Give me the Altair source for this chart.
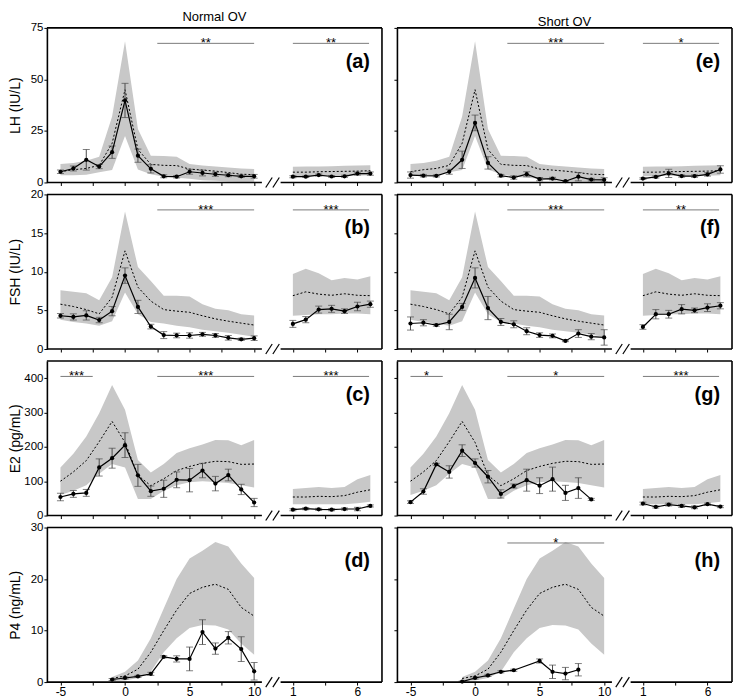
import altair as alt
import pandas as pd

FONT = "Liberation Sans"

# ---------------- categories / labels ----------------
hormones = ["LH", "FSH", "E2", "P4"]
y_titles = ["LH (IU/L)", "FSH (IU/L)", "E2 (pg/mL)", "P4 (ng/mL)"]
y_max = [75, 20, 450, 30]
y_ticks = [[0, 25, 50, 75], [0, 5, 10, 15, 20], [0, 100, 200, 300, 400], [0, 10, 20, 30]]
groups = ["Normal OV", "Short OV"]
panel_letters = [["(a)", "(e)"], ["(b)", "(f)"], ["(c)", "(g)"], ["(d)", "(h)"]]

cycle_days = list(range(-5, 11))
late_days = list(range(1, 8))
p4_days = list(range(-1, 11))
p4_short_days = [-1, 0, 1, 2, 3, 5, 6, 7, 8]
e2_short_days = list(range(-5, 10))

x_tick_days = [-5, -2.5, 0, 2.5, 5, 7.5, 10]
x_tick_labels = ["-5", "", "0", "", "5", "", "10"]
late_tick_days = [1, 3.5, 6]
late_tick_labels = ["1", "", "6"]

# ---------------- reference population (grey range, dotted median) ----------------
LH_hi = [9.0, 9.5, 10.5, 12.5, 32.0, 68.5, 26.0, 13.0, 12.8, 12.5, 9.0, 8.2, 7.8, 7.3, 6.8, 6.5]
LH_med = [5.2, 6.2, 6.8, 8.3, 19.0, 45.0, 16.0, 8.8, 8.3, 8.2, 6.5, 6.0, 5.5, 4.8, 4.0, 3.8]
LH_lo = [3.5, 3.5, 3.8, 5.0, 6.0, 22.5, 6.3, 4.0, 2.8, 2.3, 1.8, 1.1, 0.8, 0.5, 0.4, 0.4]
LH_late_hi = [7.6, 7.7, 7.8, 7.9, 8.1, 8.2, 8.4]
LH_late_med = [5.0, 5.0, 5.2, 5.3, 5.4, 5.5, 5.7]
LH_late_lo = [3.0, 3.0, 3.2, 3.0, 3.2, 3.3, 3.5]

FSH_hi = [7.6, 7.4, 7.2, 6.3, 9.3, 17.8, 10.6, 8.8, 6.9, 6.9, 6.8, 5.8, 5.2, 5.0, 4.5, 4.35]
FSH_med = [5.8, 5.5, 5.1, 4.55, 6.7, 12.7, 8.0, 6.2, 5.1, 4.9, 4.75, 4.3, 3.9, 3.6, 3.35, 3.1]
FSH_lo = [3.8, 3.5, 3.3, 3.0, 3.6, 7.3, 4.5, 3.5, 3.3, 3.0, 2.8, 2.5, 2.3, 2.1, 1.85, 1.6]
FSH_late_hi = [9.7, 10.4, 9.8, 8.9, 9.2, 9.0, 9.4]
FSH_late_med = [6.9, 7.4, 7.1, 6.95, 7.15, 6.95, 6.9]
FSH_late_lo = [4.3, 4.4, 4.5, 4.5, 4.6, 4.6, 4.5]

E2_hi = [140, 180, 230, 298, 380, 308, 162, 125, 150, 182, 196, 207, 220, 219, 205, 220]
E2_med = [100, 127, 160, 215, 274, 213, 117, 87, 107, 131, 143, 152, 158, 157, 149, 150]
E2_lo = [60, 72, 88, 122, 150, 140, 48, 48, 72, 88, 97, 100, 98, 95, 88, 82]
E2_late_hi = [77, 80, 83, 80, 83, 106, 118]
E2_late_med = [54, 54, 56, 55, 58, 68, 75]
E2_late_lo = [33, 33, 33, 33, 33, 36, 40]

P4_hi = [1.0, 2.0, 4.2, 8.5, 14.3, 20.0, 24.0, 25.5, 27.2, 26.3, 23.0, 20.2]
P4_med = [0.7, 1.2, 2.5, 5.8, 10.0, 14.0, 17.2, 18.4, 19.0, 18.0, 14.5, 12.8]
P4_lo = [0.2, 0.3, 0.8, 2.0, 5.8, 8.5, 10.5, 11.1, 11.0, 10.2, 7.5, 5.3]

# ---------------- observed means and SEM ----------------
LH_normal = [5.2, 6.8, 11.0, 7.7, 14.7, 39.8, 13.0, 6.6, 3.0, 2.8, 5.2, 4.6, 4.0, 3.5, 3.0, 3.0]
LH_normal_se = [0.8, 1.2, 5.0, 1.0, 3.0, 8.3, 3.2, 2.0, 0.7, 0.6, 1.2, 1.4, 1.0, 0.7, 0.6, 0.9]
LH_normal_late = [2.8, 2.8, 3.6, 2.9, 3.0, 4.3, 4.3]
LH_normal_late_se = [0.5, 0.4, 0.5, 0.4, 0.5, 0.7, 0.8]
LH_short = [3.6, 3.3, 3.2, 5.2, 11.0, 28.9, 9.5, 3.3, 2.4, 4.0, 1.6, 1.9, 0.6, 2.8, 1.4, 1.3]
LH_short_se = [1.5, 0.6, 0.5, 1.2, 4.2, 3.8, 3.0, 0.6, 0.8, 1.2, 0.8, 0.6, 0.3, 2.0, 0.6, 1.0]
LH_short_late = [1.9, 2.7, 4.4, 3.1, 3.1, 3.9, 6.3]
LH_short_late_se = [0.4, 0.5, 2.0, 0.5, 0.6, 0.8, 1.8]

FSH_normal = [4.3, 4.15, 4.35, 3.75, 4.9, 9.5, 5.45, 2.9, 1.8, 1.75, 1.75, 1.9, 1.75, 1.45, 1.25, 1.4]
FSH_normal_se = [0.3, 0.4, 0.6, 0.35, 0.6, 1.0, 0.85, 0.3, 0.45, 0.3, 0.35, 0.25, 0.25, 0.3, 0.15, 0.3]
FSH_normal_late = [3.25, 3.8, 5.1, 5.2, 4.9, 5.5, 5.8]
FSH_normal_late_se = [0.45, 0.4, 0.45, 0.45, 0.3, 0.55, 0.4]
FSH_short = [3.3, 3.4, 3.1, 3.5, 5.45, 9.2, 5.3, 3.5, 3.2, 2.3, 1.8, 1.7, 1.05, 2.0, 1.6, 1.5]
FSH_short_se = [0.85, 0.4, 0.15, 1.0, 0.45, 1.3, 1.5, 0.45, 0.45, 0.45, 0.3, 0.25, 0.1, 0.5, 0.4, 1.0]
FSH_short_late = [2.85, 4.5, 4.5, 5.15, 5.0, 5.35, 5.6]
FSH_short_late_se = [0.3, 0.6, 0.5, 0.6, 0.3, 0.5, 0.4]

E2_normal = [54, 63, 66, 140, 167, 205, 117, 71, 78, 104, 103, 131, 93, 118, 76, 38]
E2_normal_se = [11, 10, 10, 25, 29, 36, 32, 15, 25, 23, 34, 21, 21, 17, 15, 12]
E2_normal_late = [17, 20, 18, 17, 19, 19, 28]
E2_normal_late_se = [3, 3, 3, 3, 3, 5, 3]
E2_short = [39, 70, 149, 127, 189, 153, 113, 63, 86, 103, 87, 106, 66, 80, 47]
E2_short_se = [4, 8, 3, 18, 17, 12, 18, 12, 6, 32, 23, 35, 22, 30, 3]
E2_short_late = [35, 25, 32, 28, 24, 33, 26]
E2_short_late_se = [4, 3, 4, 4, 4, 3, 3]

P4_normal = [0.5, 0.8, 1.1, 1.6, 4.9, 4.5, 4.5, 9.7, 6.5, 8.6, 6.4, 2.1]
P4_normal_se = [0.2, 0.2, 0.2, 0.3, 0.2, 0.6, 2.3, 2.4, 1.1, 1.2, 2.4, 1.7]
P4_short = [0.1, 0.8, 1.3, 2.0, 2.3, 4.1, 2.0, 1.65, 2.4]
P4_short_se = [0.1, 0.2, 0.2, 0.2, 0.2, 0.4, 1.3, 1.2, 1.2]

# significance bars: (start day, end day, segment, label)
sig_bars = {
    ("LH", 0): [(2.5, 10, "main", "**"), (1, 6.9, "late", "**")],
    ("LH", 1): [(2.5, 10, "main", "***"), (1, 6.9, "late", "*")],
    ("FSH", 0): [(2.5, 10, "main", "***"), (1, 6.9, "late", "***")],
    ("FSH", 1): [(2.5, 10, "main", "***"), (1, 6.9, "late", "**")],
    ("E2", 0): [(-5, -2.5, "main", "***"), (2.5, 10, "main", "***"), (1, 6.9, "late", "***")],
    ("E2", 1): [(-5, -2.5, "main", "*"), (2.5, 10, "main", "*"), (1, 6.9, "late", "***")],
    ("P4", 0): [],
    ("P4", 1): [(2.5, 10, "main", "*")],
}
sig_level = [67.5, 18.0, 405, 27.0]

# ---------------- layout constants ----------------
LATE_SHIFT = 12          # where the post-break segment sits on the x scale
X_MIN, X_MAX = -6.05, 19.9
BREAK_L, BREAK_R = 10.6, 12.05
PW, PH = 336, 155

ref = {
    "LH": (cycle_days, LH_lo, LH_med, LH_hi, LH_late_lo, LH_late_med, LH_late_hi),
    "FSH": (cycle_days, FSH_lo, FSH_med, FSH_hi, FSH_late_lo, FSH_late_med, FSH_late_hi),
    "E2": (cycle_days, E2_lo, E2_med, E2_hi, E2_late_lo, E2_late_med, E2_late_hi),
    "P4": (p4_days, P4_lo, P4_med, P4_hi, [], [], []),
}
obs = {
    ("LH", 0): (cycle_days, LH_normal, LH_normal_se, LH_normal_late, LH_normal_late_se),
    ("LH", 1): (cycle_days, LH_short, LH_short_se, LH_short_late, LH_short_late_se),
    ("FSH", 0): (cycle_days, FSH_normal, FSH_normal_se, FSH_normal_late, FSH_normal_late_se),
    ("FSH", 1): (cycle_days, FSH_short, FSH_short_se, FSH_short_late, FSH_short_late_se),
    ("E2", 0): (cycle_days, E2_normal, E2_normal_se, E2_normal_late, E2_normal_late_se),
    ("E2", 1): (e2_short_days, E2_short, E2_short_se, E2_short_late, E2_short_late_se),
    ("P4", 0): (p4_days, P4_normal, P4_normal_se, [], []),
    ("P4", 1): (p4_short_days, P4_short, P4_short_se, [], []),
}


def ref_frame(h):
    days, lo, med, hi, llo, lmed, lhi = ref[h]
    rows = [dict(x=d, seg="main", lo=a, med=b, hi=c) for d, a, b, c in zip(days, lo, med, hi)]
    rows += [dict(x=d + LATE_SHIFT, seg="late", lo=a, med=b, hi=c)
             for d, a, b, c in zip(late_days, llo, lmed, lhi)]
    return pd.DataFrame(rows)


def obs_frame(h, c):
    days, m, se, lm, lse = obs[(h, c)]
    rows = [dict(x=d, seg="main", mean=v, elo=v - s, ehi=v + s) for d, v, s in zip(days, m, se)]
    rows += [dict(x=d + LATE_SHIFT, seg="late", mean=v, elo=v - s, ehi=v + s)
             for d, v, s in zip(late_days, lm, lse)]
    return pd.DataFrame(rows)


tick_x = x_tick_days + [d + LATE_SHIFT for d in late_tick_days]
tick_lab = x_tick_labels + late_tick_labels
label_expr = "".join(f"datum.value == {v} ? '{l}' : " for v, l in zip(tick_x, tick_lab)) + "''"

GREY = "#c8c8c8"
ERR = "#4a4a4a"


def panel(r, c):
    h = hormones[r]
    ymax = y_max[r]
    xs = alt.Scale(domain=[X_MIN, X_MAX], nice=False, zero=False)
    ys = alt.Scale(domain=[0, ymax], nice=False, zero=False)
    x_axis = alt.Axis(values=tick_x, tickCount=40, labelExpr=label_expr, labels=(r == 3),
                      domain=False, ticks=True, tickSize=3, tickColor="black", labelPadding=1,
                      grid=False, labelOverlap=False, title=None, labelFontSize=12,
                      labelColor="black", labelFont=FONT)
    y_axis = alt.Axis(values=y_ticks[r], tickCount=40, format="d", labels=(c == 0), grid=False,
                      tickSize=3, tickColor="black", domainColor="black", domainWidth=1.6,
                      labelPadding=1, labelOverlap=False, labelFontSize=11.5, labelColor="black",
                      labelFont=FONT, title=(y_titles[r] if c == 0 else None), titleFont=FONT,
                      titleFontSize=14, titleFontWeight="normal", titleColor="black", titleX=-24)

    X = lambda f: alt.X(f, scale=xs)
    Y = lambda f: alt.Y(f, scale=ys)

    rdf = ref_frame(h)
    odf = obs_frame(h, c)

    band = alt.Chart(rdf).mark_area(color=GREY, opacity=1).encode(
        x=alt.X("x:Q", scale=xs, axis=x_axis),
        y=alt.Y("lo:Q", scale=ys, axis=y_axis),
        y2="hi:Q",
        detail="seg:N",
    )
    med = alt.Chart(rdf).mark_line(color="black", strokeWidth=1, strokeDash=[2, 2]).encode(
        x=X("x:Q"), y=Y("med:Q"), detail="seg:N")
    err = alt.Chart(odf).mark_rule(color=ERR, strokeWidth=1).encode(
        x=X("x:Q"), y=Y("elo:Q"), y2="ehi:Q")
    cap_lo = alt.Chart(odf).mark_tick(color=ERR, orient="horizontal", size=7, thickness=1).encode(
        x=X("x:Q"), y=Y("elo:Q"))
    cap_hi = alt.Chart(odf).mark_tick(color=ERR, orient="horizontal", size=7, thickness=1).encode(
        x=X("x:Q"), y=Y("ehi:Q"))
    line = alt.Chart(odf).mark_line(color="black", strokeWidth=1.2).encode(
        x=X("x:Q"), y=Y("mean:Q"), detail="seg:N")
    pts = alt.Chart(odf).mark_point(filled=True, color="black", size=18, opacity=1).encode(
        x=X("x:Q"), y=Y("mean:Q"))

    layers = [band, med, err, cap_lo, cap_hi, line, pts]

    bars = sig_bars[(h, c)]
    if bars:
        sdf = pd.DataFrame([
            dict(x1=(a + (LATE_SHIFT if s == "late" else 0)),
                 x2=(b + (LATE_SHIFT if s == "late" else 0)),
                 y=sig_level[r], label=t) for a, b, s, t in bars])
        sdf["xm"] = (sdf["x1"] + sdf["x2"]) / 2
        layers.append(alt.Chart(sdf).mark_rule(color="#7a7a7a", strokeWidth=1).encode(
            x=X("x1:Q"), x2="x2:Q", y=Y("y:Q")))
        layers.append(alt.Chart(sdf).mark_text(fontSize=13, font=FONT, color="black",
                                               baseline="alphabetic", dy=4).encode(
            x=X("xm:Q"), y=Y("y:Q"), text="label:N"))

    # frame (top, right, broken bottom) and the // break marks
    k = ymax * 5 / PH
    fdf = pd.DataFrame(dict(
        x=[X_MIN, X_MAX, X_MIN, BREAK_R], x2=[X_MAX, X_MAX, BREAK_L, X_MAX],
        y=[ymax, 0, 0, 0], y2=[ymax, ymax, 0, 0]))
    layers.append(alt.Chart(fdf).mark_rule(color="black", strokeWidth=1.6).encode(
        x=X("x:Q"), x2="x2:Q", y=Y("y:Q"), y2="y2:Q"))
    bdf = pd.DataFrame(dict(x=[10.9, 11.45], x2=[11.4, 11.95], y=[-k, -k], y2=[k, k]))
    layers.append(alt.Chart(bdf).mark_rule(color="black", strokeWidth=1.2).encode(
        x=X("x:Q"), x2="x2:Q", y=Y("y:Q"), y2="y2:Q"))

    ldf = pd.DataFrame(dict(t=[panel_letters[r][c]]))
    layers.append(alt.Chart(ldf).mark_text(fontSize=20, fontWeight="bold", font=FONT,
                                           align="right", baseline="middle", color="black").encode(
        text="t:N", x=alt.value(PW - 12), y=alt.value(34)))

    ch = alt.layer(*layers).properties(width=PW, height=PH)
    if r == 0:
        ch = ch.properties(title=alt.TitleParams(groups[c], fontSize=13, fontWeight="normal",
                                                 font=FONT, anchor="middle", frame="group",
                                                 offset=-2, color="black"))
    return ch


panels = [panel(r, c) for r in range(4) for c in range(2)]
chart = alt.concat(*panels, columns=2, spacing=alt.RowColnumber(row=12, column=15),
                   bounds="flush").properties(
    padding={"left": 0, "top": 2, "right": 1, "bottom": 0}
).configure_view(stroke=None).configure_text(font=FONT)

chart.save("out.html", embed_options={"renderer": "svg", "actions": False})
